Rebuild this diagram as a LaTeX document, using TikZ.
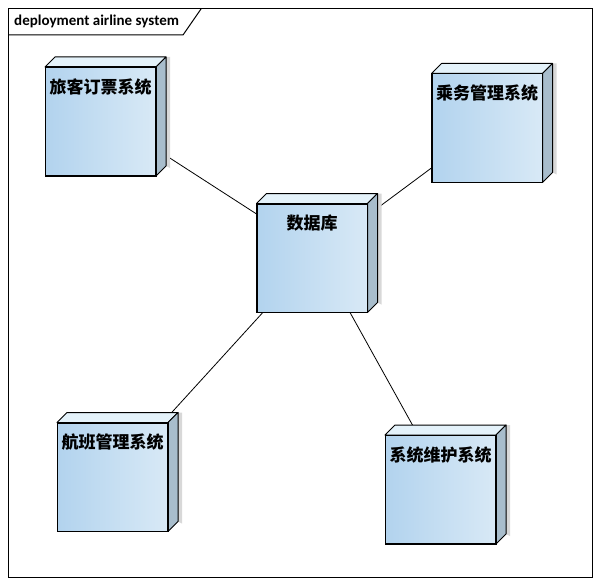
\documentclass[tikz,border=0pt]{standalone}
\usepackage{fontspec}
\setmainfont{Carlito}
\newfontfamily\cjk{Noto Sans CJK SC}
\pgfdeclarelayer{background}
\pgfsetlayers{background,main}
\definecolor{frontL}{HTML}{B2D3EE}
\definecolor{frontR}{HTML}{D8E9F6}
\definecolor{topface}{HTML}{E4F2FA}
\definecolor{sideface}{HTML}{A8BDCC}
\definecolor{shadowc}{HTML}{D8D8D8}
\tikzset{
  front/.style={draw=black, line width=1pt, left color=frontL, right color=frontR,
    minimum width=110pt, minimum height=108pt, inner sep=0pt},
  lbl/.style={font=\cjk\bfseries\fontsize{17}{17}\selectfont, inner sep=0pt},
  conn/.style={draw=black, line width=0.8pt},
  face/.style={draw=black, line width=1pt, line join=round},
}
\newcommand{\depnode}[4]{% name, x, y, text
  \node[front] (#1) at (#2,#3) {};
  \fill[shadowc] ([shift={(10,-10)}]#1.north east) -- ([shift={(14,-10)}]#1.north east) -- ([shift={(14,-8)}]#1.south east) -- ([shift={(10,-10)}]#1.south east) -- cycle;
  \filldraw[face, fill=topface] (#1.north west) -- ([shift={(10,-10)}]#1.north west) -- ([shift={(10,-10)}]#1.north east) -- (#1.north east) -- cycle;
  \filldraw[face, fill=sideface] (#1.north east) -- ([shift={(10,-10)}]#1.north east) -- ([shift={(10,-10)}]#1.south east) -- (#1.south east) -- cycle;
  \draw[line width=1pt] (#1.north west) rectangle (#1.south east);
  \node[lbl] (#1t) at ([yshift=-20]#1.north) {#4};
  \coordinate (#1c) at ([shift={(5,-5)}]#1.center);
}
\begin{document}
\begin{tikzpicture}[x=1pt, y=-1pt]
\useasboundingbox (0,0) rectangle (600,586);
% frame
\draw[line width=1pt] (8,9) rectangle (592,577);
\draw[line width=1pt] (8,35) -- (183,35) -- (201,9);
\node[anchor=west, font=\bfseries\fontsize{15}{15}\selectfont, inner sep=0pt] (title) at (14,21.5) {deployment airline system};
% nodes
\depnode{pa}{100.5}{121.5}{旅客订票系统}
\depnode{cw}{487}{128}{乘务管理系统}
\depnode{db}{312}{258}{数据库}
\depnode{hb}{112.5}{477}{航班管理系统}
\depnode{wh}{440.5}{489.5}{系统维护系统}
% connectors
\begin{pgfonlayer}{background}
\draw[conn] (pac) -- (dbc);
\draw[conn] (cwc) -- (dbc);
\draw[conn] (hbc) -- (dbc);
\draw[conn] (whc) -- (dbc);
\end{pgfonlayer}
\end{tikzpicture}
\end{document}
